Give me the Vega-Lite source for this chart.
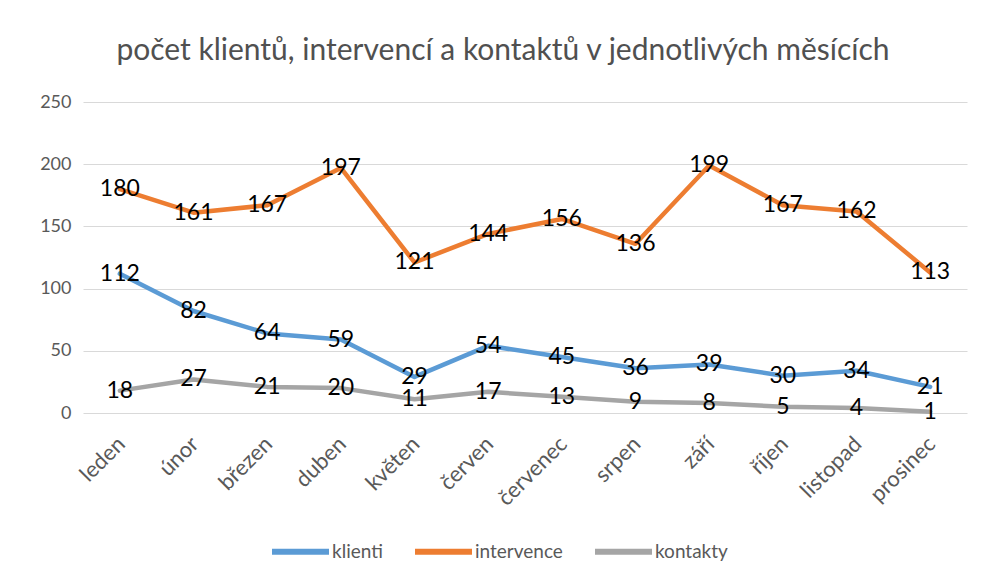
{
  "$schema": "https://vega.github.io/schema/vega-lite/v6.json",
  "width": 884,
  "height": 311,
  "autosize": {"type": "none"},
  "padding": {"left": 83, "top": 102, "right": 16, "bottom": 168},
  "background": "white",
  "title": {
    "text": "počet klientů, intervencí a kontaktů v jednotlivých měsících",
    "font": "Lato",
    "fontSize": 30,
    "fontWeight": "normal",
    "color": "#505050",
    "anchor": "middle",
    "offset": 27,
    "dx": -22
  },
  "config": {
    "view": {"stroke": null},
    "font": "Lato"
  },
  "data": {
    "values": [
      {"month": "leden", "series": "klienti", "value": 112},
      {"month": "únor", "series": "klienti", "value": 82},
      {"month": "březen", "series": "klienti", "value": 64},
      {"month": "duben", "series": "klienti", "value": 59},
      {"month": "květen", "series": "klienti", "value": 29},
      {"month": "červen", "series": "klienti", "value": 54},
      {"month": "červenec", "series": "klienti", "value": 45},
      {"month": "srpen", "series": "klienti", "value": 36},
      {"month": "září", "series": "klienti", "value": 39},
      {"month": "říjen", "series": "klienti", "value": 30},
      {"month": "listopad", "series": "klienti", "value": 34},
      {"month": "prosinec", "series": "klienti", "value": 21},
      {"month": "leden", "series": "intervence", "value": 180},
      {"month": "únor", "series": "intervence", "value": 161},
      {"month": "březen", "series": "intervence", "value": 167},
      {"month": "duben", "series": "intervence", "value": 197},
      {"month": "květen", "series": "intervence", "value": 121},
      {"month": "červen", "series": "intervence", "value": 144},
      {"month": "červenec", "series": "intervence", "value": 156},
      {"month": "srpen", "series": "intervence", "value": 136},
      {"month": "září", "series": "intervence", "value": 199},
      {"month": "říjen", "series": "intervence", "value": 167},
      {"month": "listopad", "series": "intervence", "value": 162},
      {"month": "prosinec", "series": "intervence", "value": 113},
      {"month": "leden", "series": "kontakty", "value": 18},
      {"month": "únor", "series": "kontakty", "value": 27},
      {"month": "březen", "series": "kontakty", "value": 21},
      {"month": "duben", "series": "kontakty", "value": 20},
      {"month": "květen", "series": "kontakty", "value": 11},
      {"month": "červen", "series": "kontakty", "value": 17},
      {"month": "červenec", "series": "kontakty", "value": 13},
      {"month": "srpen", "series": "kontakty", "value": 9},
      {"month": "září", "series": "kontakty", "value": 8},
      {"month": "říjen", "series": "kontakty", "value": 5},
      {"month": "listopad", "series": "kontakty", "value": 4},
      {"month": "prosinec", "series": "kontakty", "value": 1}
    ]
  },
  "encoding": {
    "x": {
      "field": "month",
      "type": "nominal",
      "sort": ["leden", "únor", "březen", "duben", "květen", "červen", "červenec", "srpen", "září", "říjen", "listopad", "prosinec"],
      "scale": {"type": "point", "padding": 0.5},
      "axis": {
        "title": null,
        "labelAngle": -45,
        "labelFont": "Lato",
        "labelFontSize": 22,
        "labelColor": "#595959",
        "labelPadding": 20,
        "labelOffset": -6,
        "domain": false,
        "ticks": false,
        "grid": false
      }
    },
    "y": {
      "field": "value",
      "type": "quantitative",
      "scale": {"domain": [0, 250], "nice": false},
      "axis": {
        "title": null,
        "values": [0, 50, 100, 150, 200, 250],
        "labelFont": "Lato",
        "labelFontSize": 18,
        "labelColor": "#595959",
        "labelPadding": 12,
        "domain": false,
        "ticks": false,
        "grid": true,
        "gridColor": "#D9D9D9",
        "gridWidth": 1
      }
    }
  },
  "layer": [
    {
      "mark": {"type": "line", "strokeWidth": 4.5, "strokeCap": "round", "strokeJoin": "round"},
      "encoding": {
        "color": {
          "field": "series",
          "type": "nominal",
          "sort": ["klienti", "intervence", "kontakty"],
          "scale": {"domain": ["klienti", "intervence", "kontakty"], "range": ["#5B9BD5", "#ED7D31", "#A5A5A5"]},
          "legend": {
            "title": null,
            "orient": "none",
            "direction": "horizontal",
            "legendX": 186,
            "legendY": 418,
            "symbolType": "stroke",
            "symbolSize": 3249,
            "symbolStrokeWidth": 6,
            "labelFont": "Lato",
            "labelFontSize": 19,
            "labelColor": "#595959",
            "labelOffset": 0,
            "columnPadding": 20
          }
        }
      }
    },
    {
      "mark": {"type": "text", "font": "Lato", "fontSize": 23, "color": "#000000", "align": "center", "baseline": "middle"},
      "encoding": {
        "text": {"field": "value", "type": "quantitative"}
      }
    }
  ]
}
